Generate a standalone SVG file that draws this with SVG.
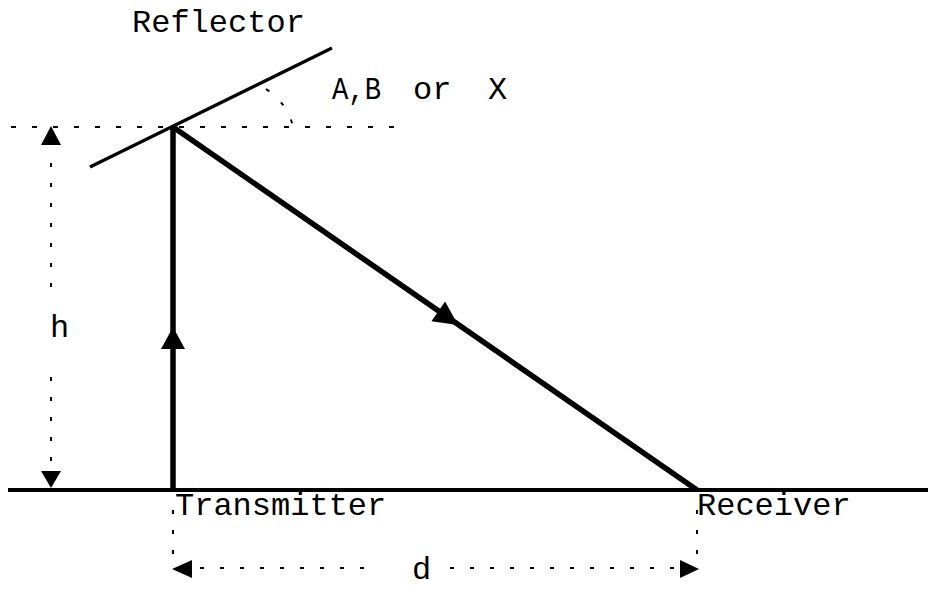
<svg xmlns="http://www.w3.org/2000/svg" width="928" height="591" viewBox="0 0 928 591">
<style>
text{font-family:"Liberation Mono","Courier New",monospace;font-size:32px;fill:#000}
.ray{stroke:#000;stroke-width:5.5;fill:none;stroke-linecap:butt}
.dim{stroke:#000;stroke-width:2;fill:none;stroke-dasharray:4 16}
.hdim{stroke:#000;stroke-width:1.8;fill:none;stroke-dasharray:5 16}
.head{fill:#000;stroke:none}
</style>
<rect width="928" height="591" fill="#fff"/>
<g id="ground">
<line x1="8" y1="490" x2="928" y2="490" stroke="#000" stroke-width="4"/>
</g>
<g id="reflector">
<line x1="90" y1="167" x2="332" y2="48" stroke="#000" stroke-width="3.2"/>
<text x="132" y="32">Reflector</text>
</g>
<g id="angle">
<line class="hdim" x1="11" y1="127" x2="405" y2="127"/>
<path class="dim" d="M266 89 Q288 104 293 127" stroke-dasharray="3 13"/>
<text x="332" y="99" textLength="49" lengthAdjust="spacingAndGlyphs">A,B</text>
<text x="413" y="99">or</text>
<text x="488" y="99">X</text>
</g>
<g id="height">
<line class="dim" x1="51" y1="163" x2="51" y2="296"/>
<line class="dim" x1="51" y1="377" x2="51" y2="470"/>
<polygon class="head" points="51,126 41,145 61,145"/>
<polygon class="head" points="51,488 41,471 61,471"/>
<text x="50" y="337">h</text>
</g>
<g id="transmitter">
<text x="175" y="515">Transmitter</text>
</g>
<g id="receiver">
<text x="697" y="515">Receiver</text>
</g>
<g id="distance">
<line class="dim" x1="173" y1="510" x2="173" y2="556"/>
<line class="dim" x1="697" y1="510" x2="697" y2="556"/>
<line class="dim" x1="200" y1="568" x2="380" y2="568"/>
<line class="dim" x1="450" y1="568" x2="680" y2="568"/>
<polygon class="head" points="172,569 192,560 192,578"/>
<polygon class="head" points="699,569 680,560 680,578"/>
<text x="412" y="579">d</text>
</g>
<g id="connectors">
<line class="ray" x1="173" y1="490" x2="173" y2="127"/>
<line class="ray" x1="173" y1="127" x2="697" y2="490"/>
<polygon class="head" points="173,327 161,349 185,349"/>
<polygon class="head" points="0,0 -24,-12 -24,12" transform="translate(458,325) rotate(34.7)"/>
</g>
</svg>
